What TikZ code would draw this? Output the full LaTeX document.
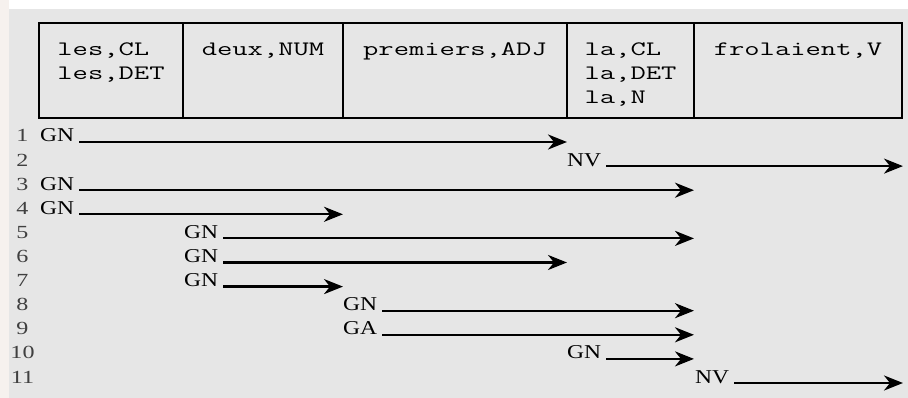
\documentclass[tikz,border=0pt]{standalone}
\usepackage{fontspec}
\usetikzlibrary{arrows.meta}
\newfontfamily\cellfont[FakeStretch=1.45]{Latin Modern Mono}
\newfontfamily\labfont[FakeStretch=1.2]{Liberation Serif}
\newfontfamily\numfont[FakeStretch=1.3]{Liberation Serif}
\definecolor{bggray}{HTML}{E6E6E6}
\definecolor{edgepink}{HTML}{F6F1EE}
\definecolor{numgray}{HTML}{404040}
\tikzset{
  cell/.style={anchor=north, align=left, inner sep=0pt, font=\cellfont\fontsize{20.5}{24}\selectfont},
  lab/.style={anchor=base west, inner sep=0pt, font=\labfont\fontsize{19.6}{22}\selectfont},
  rownum/.style={anchor=base, inner sep=0pt, text=numgray, font=\numfont\fontsize{18.5}{20}\selectfont},
  arr/.style={line width=2.2pt, -{Stealth[length=19pt,width=15pt,inset=6pt]}},
  grid/.style={line width=2.6pt, line cap=rect}
}
\begin{document}
\begin{tikzpicture}[x=1pt,y=-1pt]
\useasboundingbox (0,0) rectangle (908,398);
\fill[white] (0,0) rectangle (908,398);
\fill[edgepink] (0,0) rectangle (9,398);
\fill[bggray] (9,9) rectangle (908,398);
% table
\draw[grid] (39,23) rectangle (902,118);
\foreach \x in {183,343,567,694} \draw[grid] (\x,23) -- (\x,118);
\node[cell] (c1) at (111,41) {\rule{0pt}{14pt}les,CL\\les,DET};
\node[cell] (c2) at (263,41) {\rule{0pt}{14pt}deux,NUM};
\node[cell] (c3) at (455,41) {\rule{0pt}{14pt}premiers,ADJ};
\node[cell] (c4) at (630.5,41) {\rule{0pt}{14pt}la,CL\\la,DET\\la,N};
\node[cell] (c5) at (798,41) {\rule{0pt}{14pt}frolaient,V};
% row numbers
\foreach \i in {1,...,11} \node[rownum] (n\i) at (22.5,{142+24.1*(\i-1)}) {\i};
% labels
\node[lab] (l1)  at (40,142)    {GN};
\node[lab] (l2)  at (567,166.1) {NV};
\node[lab] (l3)  at (40,190.2)  {GN};
\node[lab] (l4)  at (40,214.3)  {GN};
\node[lab] (l5)  at (184,238.4) {GN};
\node[lab] (l6)  at (184,262.5) {GN};
\node[lab] (l7)  at (184,286.6) {GN};
\node[lab] (l8)  at (343,310.7) {GN};
\node[lab] (l9)  at (343,334.8) {GA};
\node[lab] (l10) at (567,358.9) {GN};
\node[lab] (l11) at (695,383)   {NV};
% arrow ends
\coordinate (e1)  at (567,142);
\coordinate (e2)  at (903,166.1);
\coordinate (e3)  at (694,190.2);
\coordinate (e4)  at (343,214.3);
\coordinate (e5)  at (694,238.4);
\coordinate (e6)  at (567,262.5);
\coordinate (e7)  at (343,286.6);
\coordinate (e8)  at (694,310.7);
\coordinate (e9)  at (694,334.8);
\coordinate (e10) at (694,358.9);
\coordinate (e11) at (903,383);
\foreach \i in {1,...,11} \draw[arr] ([xshift=5pt]l\i.base east) -- (e\i);
\end{tikzpicture}
\end{document}
